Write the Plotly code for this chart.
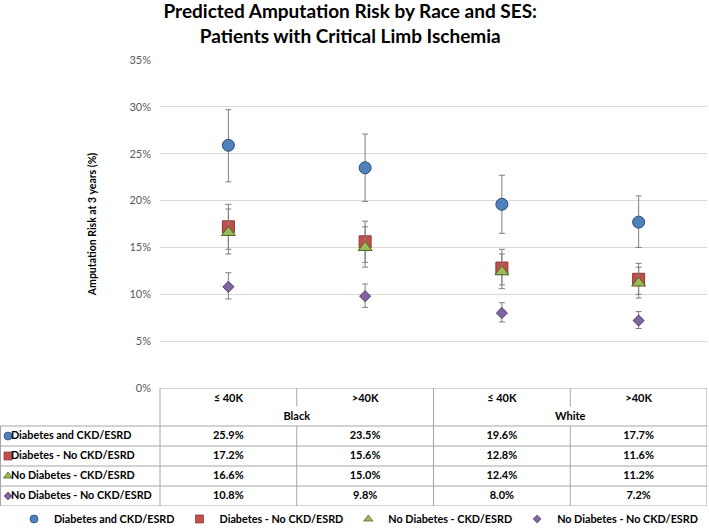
import plotly.graph_objects as go

# ---------------- data ----------------
races = ["Black", "White"]
ses_labels = ["≤ 40K", ">40K", "≤ 40K", ">40K"]
race_of_col = ["Black", "Black", "White", "White"]

series_names = [
    "Diabetes and CKD/ESRD",
    "Diabetes - No CKD/ESRD",
    "No Diabetes - CKD/ESRD",
    "No Diabetes - No CKD/ESRD",
]

dm_ckd = [25.9, 23.5, 19.6, 17.7]
dm_ckd_lo = [22.0, 19.9, 16.5, 15.0]
dm_ckd_hi = [29.7, 27.1, 22.7, 20.5]

dm_nockd = [17.2, 15.6, 12.8, 11.6]
dm_nockd_lo = [14.8, 13.4, 11.0, 10.0]
dm_nockd_hi = [19.6, 17.8, 14.8, 13.3]

nodm_ckd = [16.6, 15.0, 12.4, 11.2]
nodm_ckd_lo = [14.3, 12.9, 10.6, 9.6]
nodm_ckd_hi = [19.1, 17.2, 14.3, 12.9]

nodm_nockd = [10.8, 9.8, 8.0, 7.2]
nodm_nockd_lo = [9.5, 8.6, 7.05, 6.35]
nodm_nockd_hi = [12.3, 11.1, 9.1, 8.15]

y_ticks = [0, 5, 10, 15, 20, 25, 30, 35]

# ---------------- styles ----------------
FONT = "Lato"
values = [dm_ckd, dm_nockd, nodm_ckd, nodm_nockd]
lows = [dm_ckd_lo, dm_nockd_lo, nodm_ckd_lo, nodm_nockd_lo]
highs = [dm_ckd_hi, dm_nockd_hi, nodm_ckd_hi, nodm_nockd_hi]
symbols = ["circle", "square", "triangle-up", "diamond"]
fills = ["#4F81BD", "#C0504D", "#9BBB59", "#8064A2"]
edges = ["#2C4D75", "#8C3836", "#4F6228", "#4B3A61"]
sizes = [12, 12, 12, 8.5]
small_sizes = [8, 8, 8, 6]

W, H = 709, 529
ML, MR, MT, MB = 0, 2, 60, 23
CHART_LEFT = 160                      # pixel where the chart / data columns begin
plot_w = W - ML - MR
plot_h = H - MT - MB
table_units = 5.9                     # header 1.9 + 4 rows
unit_px = 20
table_frac = table_units * unit_px / plot_h

xs = list(range(len(ses_labels)))
col_px = (plot_w - CHART_LEFT) / len(xs)
x2_left = -0.5 - CHART_LEFT / col_px  # table axis reaches the left paper edge


def px_to_x2(px):
    return x2_left + px / col_px


fig = go.Figure()

# ---------------- chart markers with error bars ----------------
for i in range(len(series_names)):
    v = values[i]
    fig.add_trace(go.Scatter(
        x=xs, y=v, mode="markers", name=series_names[i], showlegend=False,
        xaxis="x", yaxis="y",
        marker=dict(symbol=symbols[i], size=sizes[i], color=fills[i],
                    line=dict(color=edges[i], width=1)),
        error_y=dict(type="data", symmetric=False,
                     array=[h - a for h, a in zip(highs[i], v)],
                     arrayminus=[a - l for a, l in zip(v, lows[i])],
                     color="#7F7F7F", thickness=1, width=3),
        cliponaxis=False,
    ))

# ---------------- data table ----------------
hdr_ses_y = 0.55
hdr_race_y = 1.48
row0 = 2.4
TF = dict(family=FONT, size=11, color="black", weight="bold")
LF = dict(family=FONT, size=10.8, color="black", weight="bold")

fig.add_trace(go.Scatter(
    x=xs, y=[hdr_ses_y] * len(xs), text=ses_labels, mode="text",
    xaxis="x2", yaxis="y2", showlegend=False, hoverinfo="skip", textfont=TF,
))
race_x = [sum(c for c, r in zip(xs, race_of_col) if r == race) /
          race_of_col.count(race) for race in races]
fig.add_trace(go.Scatter(
    x=race_x, y=[hdr_race_y] * len(races), text=races, mode="text",
    xaxis="x2", yaxis="y2", showlegend=False, hoverinfo="skip", textfont=TF,
))

for i in range(len(series_names)):
    fig.add_trace(go.Scatter(
        x=xs, y=[row0 + i] * len(xs),
        text=[f"{a:.1f}%" for a in values[i]], mode="text",
        xaxis="x2", yaxis="y2", showlegend=False, hoverinfo="skip", textfont=TF,
    ))
    # row label symbol (also used as the legend entry)
    fig.add_trace(go.Scatter(
        x=[px_to_x2(8)], y=[row0 + i], mode="markers", name=series_names[i],
        xaxis="x2", yaxis="y2", showlegend=True, hoverinfo="skip",
        marker=dict(symbol=symbols[i], size=small_sizes[i], color=fills[i],
                    line=dict(color=edges[i], width=0.75)),
    ))
    fig.add_trace(go.Scatter(
        x=[px_to_x2(11)], y=[row0 + i], mode="text", text=[series_names[i]],
        textposition="middle right",
        xaxis="x2", yaxis="y2", showlegend=False, hoverinfo="skip", textfont=LF,
    ))

# table borders
LC = "#A6A6A6"
shapes = []
x_first = -0.5
x_last = len(xs) - 0.5
left_edge = px_to_x2(0.5)
shapes.append(dict(type="line", xref="x2", yref="y2", x0=x_first, x1=x_last, y0=0, y1=0))
for yy in [1.9, 2.9, 3.9, 4.9, 5.9]:
    shapes.append(dict(type="line", xref="x2", yref="y2",
                       x0=left_edge, x1=x_last, y0=yy, y1=yy))
for xx in [x_first, 1.5, x_last]:
    shapes.append(dict(type="line", xref="x2", yref="y2", x0=xx, x1=xx, y0=0, y1=5.9))
shapes.append(dict(type="line", xref="x2", yref="y2",
                   x0=left_edge, x1=left_edge, y0=1.9, y1=5.9))
for xx in [0.5, 2.5]:
    shapes.append(dict(type="line", xref="x2", yref="y2", x0=xx, x1=xx, y0=0, y1=0.93))
    shapes.append(dict(type="line", xref="x2", yref="y2", x0=xx, x1=xx, y0=1.9, y1=5.9))
for s in shapes:
    s["line"] = dict(color=LC, width=1)
    s["layer"] = "above"

fig.update_layout(
    width=W, height=H,
    margin=dict(l=ML, r=MR, t=MT, b=MB, autoexpand=False),
    paper_bgcolor="white", plot_bgcolor="white",
    font=dict(family=FONT),
    title=dict(
        text="Predicted Amputation Risk by Race and SES:<br>Patients with Critical Limb Ischemia",
        x=0.494, xanchor="center", y=0.966, yanchor="top", yref="container",
        font=dict(family=FONT, size=19, color="black", weight="bold"),
    ),
    xaxis=dict(domain=[CHART_LEFT / plot_w, 1], range=[-0.5, len(xs) - 0.5],
               showgrid=False, zeroline=False, showticklabels=False,
               showline=False, fixedrange=True, anchor="y"),
    yaxis=dict(domain=[table_frac, 1], range=[0, 35], tickvals=y_ticks,
               ticktext=[f"{t}%" for t in y_ticks], anchor="x",
               showgrid=True, gridcolor="#D9D9D9", gridwidth=1,
               zeroline=False, showline=False,
               tickfont=dict(family=FONT, size=11, color="#595959"),
               ticklabelstandoff=8,
               title=dict(text="Amputation Risk at 3 years (%)", standoff=30,
                          font=dict(family=FONT, size=10.5, color="black", weight="bold"))),
    xaxis2=dict(domain=[0, 1], range=[x2_left, x_last], visible=False,
                fixedrange=True, anchor="y2"),
    yaxis2=dict(domain=[0, table_frac], range=[table_units, 0], visible=False,
                fixedrange=True, anchor="x2"),
    legend=dict(orientation="h", x=14 / plot_w, xanchor="left",
                y=-13 / plot_h, yanchor="middle", bgcolor="rgba(0,0,0,0)",
                font=dict(family=FONT, size=10.8, color="black", weight="bold"),
                itemwidth=30),
    shapes=shapes,
)

fig.write_html("out.html", config={"displayModeBar": False},
               post_script="document.body.style.margin='0';")
